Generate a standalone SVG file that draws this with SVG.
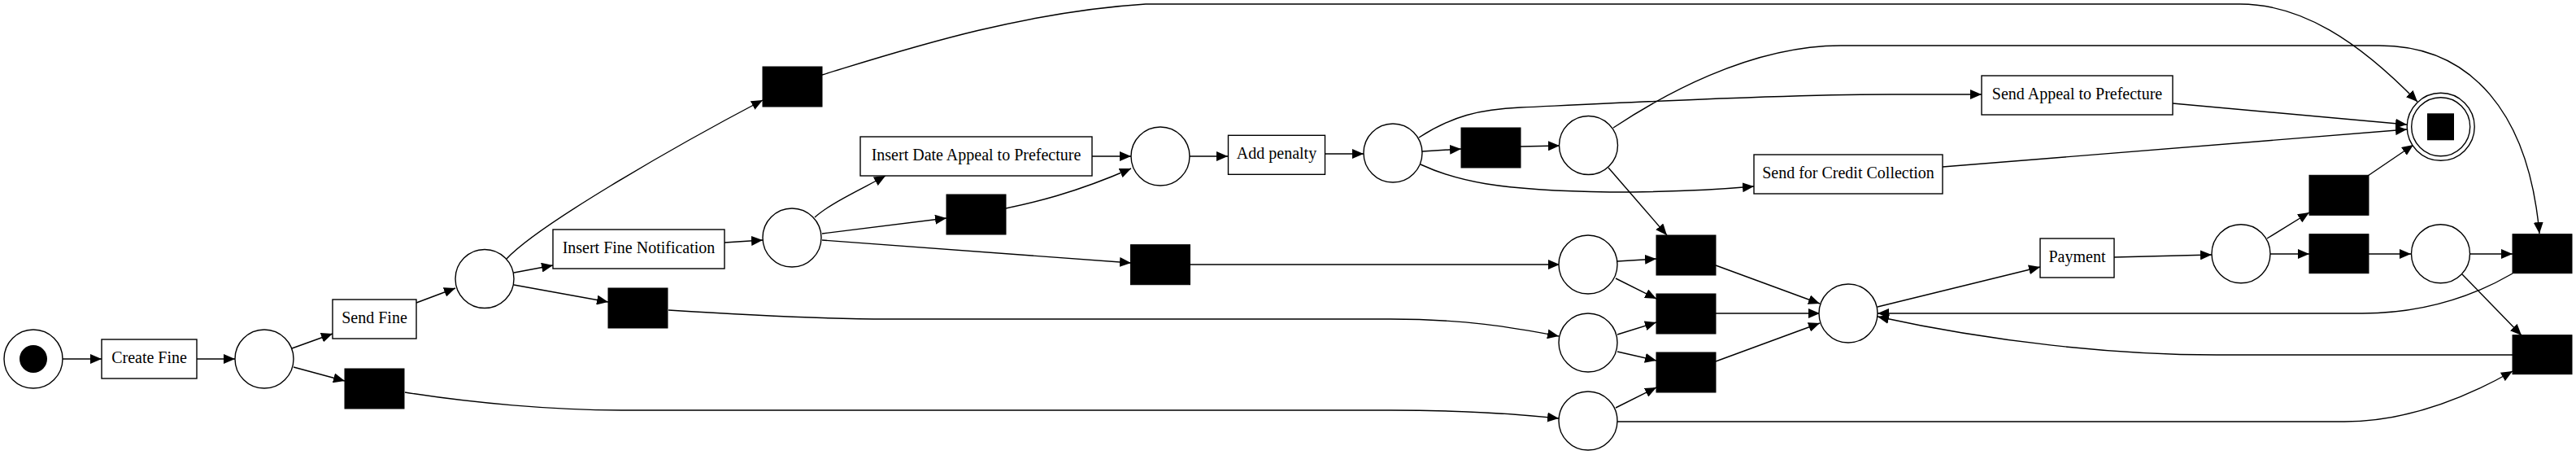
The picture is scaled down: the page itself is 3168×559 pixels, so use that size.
<svg xmlns="http://www.w3.org/2000/svg" width="3168" height="559" viewBox="0 0 3168 559">
<style>
.place{fill:#fff;stroke:#000;stroke-width:1.4}
.trans{fill:#fff;stroke:#000;stroke-width:1.4}
.tau{fill:#000;stroke:#000;stroke-width:1}
.edges path{fill:none;stroke:#000;stroke-width:1.4;marker-end:url(#arr)}
text{font-family:"Liberation Serif","Times New Roman",serif;font-size:20px;text-anchor:middle;fill:#000}
</style>
<defs>
<marker id="arr" markerUnits="userSpaceOnUse" markerWidth="14" markerHeight="12" viewBox="0 0 14 12" refX="14" refY="6" orient="auto">
<path d="M0,0 L14,6 L0,12 z" fill="#000"/>
</marker>
</defs>
<rect width="3168" height="559" fill="#fff"/>
<g class="edges" id="connectors">
<path d="M77,441 L125,441"/>
<path d="M242,441 L289,441"/>
<path d="M359,428 L409,410"/>
<path d="M361,451 L424,468"/>
<path d="M512,372 L560,354"/>
<path d="M632,335 L680,326"/>
<path d="M632,350 L748,371"/>
<path d="M623,318 C660,278 820,185 938,123"/>
<path d="M891,298 L938,295"/>
<path d="M1002,267 C1022,249 1062,231 1089,216"/>
<path d="M1011,287 L1164,268"/>
<path d="M1011,295 L1391,323"/>
<path d="M498,482 C580,495 680,504 766,504 L1710,504 C1800,504 1860,508 1917,514"/>
<path d="M1343,192 L1391,192"/>
<path d="M822,381 C900,386 1000,392 1092,392 L1710,392 C1800,392 1860,402 1917,413"/>
<path d="M1011,92 C1100,65 1250,15 1409,5 L2755,5 C2830,5 2900,50 2973,125"/>
<path d="M1237,256 C1270,249 1320,238 1391,207"/>
<path d="M1463,325 L1918,325"/>
<path d="M1462,192 L1510,192"/>
<path d="M1630,189 L1677,189"/>
<path d="M1749,186 L1797,183"/>
<path d="M1870,180 L1918,179"/>
<path d="M1745,169 C1785,143 1820,134 1870,132 C2000,126 2200,116 2326,116 L2437,116"/>
<path d="M1747,202 C1790,222 1840,234 1980,236 C2050,236 2100,234 2157,229"/>
<path d="M1984,157 C2040,120 2150,56 2264,56 L2926,56 C3040,56 3110,140 3123,287"/>
<path d="M1978,206 L2050,289"/>
<path d="M2672,127 L2960,153"/>
<path d="M2389,205 L2960,159"/>
<path d="M1989,321 L2037,318"/>
<path d="M1987,342 L2037,367"/>
<path d="M1989,411 L2037,396"/>
<path d="M1989,432 L2037,443"/>
<path d="M1987,501 L2037,476"/>
<path d="M1989,518 L2883,518 C2960,518 3030,490 3090,456"/>
<path d="M2110,326 L2238,373"/>
<path d="M2110,385 L2238,385"/>
<path d="M2110,444 L2238,397"/>
<path d="M2309,377 L2509,328"/>
<path d="M2600,316 L2720,313"/>
<path d="M2788,293 L2840,261"/>
<path d="M2792,312 L2840,312"/>
<path d="M2912,312 L2965,312"/>
<path d="M3038,312 L3090,312"/>
<path d="M3028,337 L3101,412"/>
<path d="M2912,216 L2968,178"/>
<path d="M3090,336 C3040,365 2980,385 2905,385 L2309,385"/>
<path d="M3090,436 L2726,436 C2600,436 2450,420 2309,389"/>
</g>
<g id="source"><circle class="place" cx="41" cy="441" r="36"/><circle cx="41" cy="441" r="17" fill="#000"/></g>
<g id="p1"><circle class="place" cx="325" cy="441" r="36"/></g>
<g id="p2"><circle class="place" cx="596" cy="342.5" r="36"/></g>
<g id="p3"><circle class="place" cx="974" cy="292" r="36"/></g>
<g id="p4"><circle class="place" cx="1427" cy="192" r="36"/></g>
<g id="p5"><circle class="place" cx="1713" cy="188" r="36"/></g>
<g id="p6"><circle class="place" cx="1953.5" cy="178.5" r="36"/></g>
<g id="p7"><circle class="place" cx="1953" cy="325" r="36"/></g>
<g id="p8"><circle class="place" cx="1953" cy="421" r="36"/></g>
<g id="p9"><circle class="place" cx="1953" cy="517" r="36"/></g>
<g id="p10"><circle class="place" cx="2273" cy="385" r="36"/></g>
<g id="p11"><circle class="place" cx="2756" cy="311.7" r="36"/></g>
<g id="p12"><circle class="place" cx="3001.5" cy="311.7" r="36"/></g>
<g id="sink"><circle class="place" cx="3001.7" cy="155.8" r="41.5"/><circle class="place" cx="3001.7" cy="155.8" r="36"/><rect x="2985" y="139.3" width="33" height="33" fill="#000"/></g>
<g id="create_fine"><rect class="trans" x="125" y="417" width="117" height="48"/><text x="183.5" y="446">Create Fine</text></g>
<g id="send_fine"><rect class="trans" x="409" y="368" width="103" height="48"/><text x="460.5" y="397">Send Fine</text></g>
<g id="insert_fine_notification"><rect class="trans" x="680" y="282" width="211" height="48"/><text x="785.5" y="311">Insert Fine Notification</text></g>
<g id="insert_date_appeal"><rect class="trans" x="1058" y="168" width="285" height="48"/><text x="1200.5" y="197">Insert Date Appeal to Prefecture</text></g>
<g id="add_penalty"><rect class="trans" x="1510.5" y="166.3" width="119" height="48"/><text x="1570" y="195.3">Add penalty</text></g>
<g id="send_appeal"><rect class="trans" x="2437" y="93" width="235" height="48"/><text x="2554.5" y="122">Send Appeal to Prefecture</text></g>
<g id="send_credit"><rect class="trans" x="2157" y="190" width="232" height="48"/><text x="2273" y="219">Send for Credit Collection</text></g>
<g id="payment"><rect class="trans" x="2509" y="293" width="91" height="48"/><text x="2554.5" y="322">Payment</text></g>
<g id="tau1"><rect class="tau" x="424" y="453" width="73" height="49"/></g>
<g id="tau2"><rect class="tau" x="748" y="354" width="73" height="49"/></g>
<g id="tau3"><rect class="tau" x="938" y="82" width="73" height="49"/></g>
<g id="tau4"><rect class="tau" x="1164" y="239" width="73" height="49"/></g>
<g id="tau5"><rect class="tau" x="1390.5" y="300.7" width="73" height="49"/></g>
<g id="tau6"><rect class="tau" x="1797" y="157" width="73" height="49"/></g>
<g id="tau7"><rect class="tau" x="2840" y="215.3" width="73" height="49"/></g>
<g id="tau8"><rect class="tau" x="2840" y="287.7" width="73" height="48"/></g>
<g id="tau9"><rect class="tau" x="3090" y="287.7" width="73" height="48"/></g>
<g id="tau10"><rect class="tau" x="3090" y="411.7" width="73" height="48"/></g>
<g id="tau11"><rect class="tau" x="2037" y="289" width="73" height="49"/></g>
<g id="tau12"><rect class="tau" x="2037" y="361" width="73" height="49"/></g>
<g id="tau13"><rect class="tau" x="2037" y="433" width="73" height="49"/></g>
</svg>
